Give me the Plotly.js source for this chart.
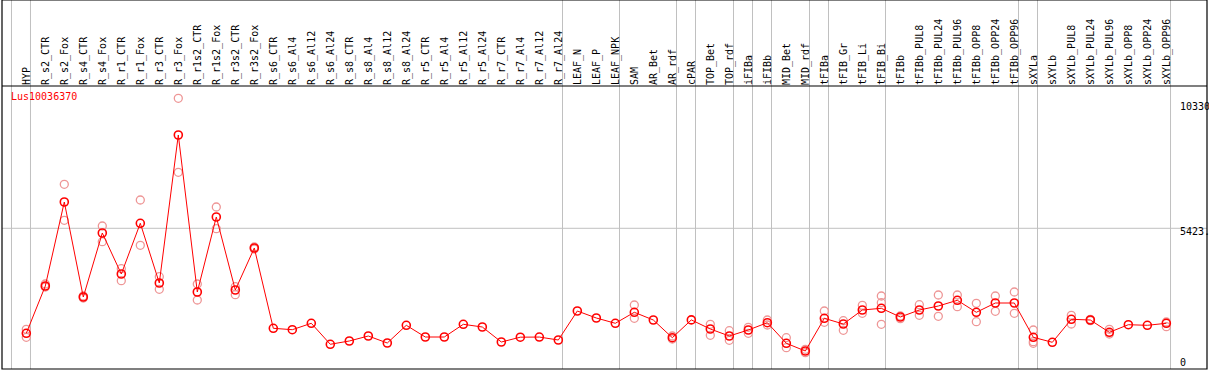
<!DOCTYPE html>
<html>
<head>
<meta charset="utf-8">
<script src="https://cdn.plot.ly/plotly-3.0.1.min.js"></script>
<style>html,body{margin:0;padding:0;background:#fff;}#chart{width:1209px;height:370px;}</style>
</head>
<body>
<div id="chart"></div>
<script>
const categories = ["HYP","R_s2_CTR","R_s2_Fox","R_s4_CTR","R_s4_Fox","R_r1_CTR","R_r1_Fox","R_r3_CTR","R_r3_Fox","R_r1s2_CTR","R_r1s2_Fox","R_r3s2_CTR","R_r3s2_Fox","R_s6_CTR","R_s6_Al4","R_s6_Al12","R_s6_Al24","R_s8_CTR","R_s8_Al4","R_s8_Al12","R_s8_Al24","R_r5_CTR","R_r5_Al4","R_r5_Al12","R_r5_Al24","R_r7_CTR","R_r7_Al4","R_r7_Al12","R_r7_Al24","LEAF_N","LEAF_P","LEAF_NPK","SAM","AR_Bet","AR_rdf","cPAR","TOP_Bet","TOP_rdf","iFIBa","iFIBb","MID_Bet","MID_rdf","tFIBa","tFIB_Gr","tFIB_Li","tFIB_Bi","tFIBb","tFIBb_PUL8","tFIBb_PUL24","tFIBb_PUL96","tFIBb_OPP8","tFIBb_OPP24","tFIBb_OPP96","sXYLa","sXYLb","sXYLb_PUL8","sXYLb_PUL24","sXYLb_PUL96","sXYLb_OPP8","sXYLb_OPP24","sXYLb_OPP96"];

const meanValues = [1288,3150,6458,2717,5238,3623,5620,3269,9097,2914,5868,2993,4647,1485,1429,1682,855,985,1181,906,1603,1142,1142,1642,1536,945,1135,1140,1024,2166,1890,1682,2115,1811,1114,1815,1457,1181,1418,1705,894,591,1878,1654,2205,2272,1930,2205,2363,2587,2115,2481,2481,1130,933,1839,1811,1327,1626,1603,1682];

const rep1 = [1445,3229,7155,2757,5513,3832,6537,3517,10542,3229,6261,3123,4686,null,null,null,null,null,null,null,null,null,null,null,null,null,null,null,null,null,null,null,2402,null,1181,null,1642,1390,1524,1811,1114,658,2166,1784,2390,2757,1969,2414,2796,2796,2469,2757,2914,1418,null,1997,1839,1445,null,null,1733];
const rep2 = [1130,3111,5738,2678,4895,3359,4753,3020,7628,2599,5407,2808,4607,null,null,null,null,null,null,null,null,null,null,null,null,null,null,null,null,null,null,null,1878,null,1063,null,1209,1012,1288,1615,721,524,1721,1406,2075,2493,1863,1997,1957,2335,1745,2154,2075,957,null,1654,1784,1260,null,null,1548];
const rep3 = [null,null,null,null,null,null,null,null,null,null,null,null,null,null,null,null,null,null,null,null,null,null,null,null,null,null,null,null,null,null,null,null,null,null,null,null,null,null,null,null,null,null,null,null,null,1642,null,null,null,null,null,null,null,894,null,null,null,null,null,null,null];

const separatorsAfter = [-1,0,28,31,34,35,37,38,39,41,42,45,52,53,60];
const gridValue = 5423;
const yTickTexts = ["10330", "5423.", "0"];
const geneName = "Lus10036370";

const mono = "DejaVu Sans Mono, monospace";
const repX = [];
const repY = [];
[rep1, rep2, rep3].forEach(arr => arr.forEach((v, i) => { if (v !== null) { repX.push(categories[i]); repY.push(v); } }));

const traces = [
  {
    x: repX, y: repY, type: "scatter", mode: "markers",
    marker: {symbol: "circle-open", size: 8, color: "rgb(238,150,150)", line: {width: 1.3, color: "rgb(238,150,150)"}},
    hoverinfo: "skip", showlegend: false
  },
  {
    x: categories, y: meanValues, type: "scatter", mode: "lines+markers",
    line: {color: "rgb(255,0,0)", width: 1},
    marker: {symbol: "circle-open", size: 8, color: "rgb(255,0,0)", line: {width: 1.6, color: "rgb(255,0,0)"}},
    showlegend: false
  }
];

const headerTop = 1 + 86 / 283;
const shapes = [];
separatorsAfter.forEach(i => {
  shapes.push({type: "line", xref: "x", yref: "paper", x0: i + 0.22, x1: i + 0.22, y0: 0, y1: headerTop,
    line: {color: "rgb(192,192,192)", width: 1}, layer: "below"});
});
shapes.push({type: "line", xref: "paper", yref: "y", x0: 0, x1: 1, y0: gridValue, y1: gridValue, line: {color: "rgb(192,192,192)", width: 1}, layer: "below"});
shapes.push({type: "line", xref: "paper", yref: "paper", x0: 0, x1: 1, y0: 1, y1: 1, line: {color: "black", width: 1.2}});
shapes.push({type: "rect", xref: "paper", yref: "paper", x0: 0, x1: 1, y0: 0, y1: headerTop, line: {color: "black", width: 1.2}});

const annotations = [
  {xref: "paper", yref: "paper", x: 0.006, y: 0.962, xanchor: "left", yanchor: "middle", text: geneName, showarrow: false,
   font: {family: mono, size: 10, color: "rgb(255,0,0)"}}
];
const yLabelPos = [0.9258, 0.4841, 0.0247];
yTickTexts.forEach((t, k) => {
  annotations.push({xref: "paper", yref: "paper", x: 0.976, y: yLabelPos[k], xanchor: "left", yanchor: "middle",
    text: t, showarrow: false, font: {family: mono, size: 10, color: "black"}});
});

const layout = {
  width: 1209, height: 370,
  margin: {l: 2, r: 2, t: 86, b: 1, pad: 0},
  paper_bgcolor: "white", plot_bgcolor: "white",
  xaxis: {type: "category", categoryorder: "array", categoryarray: categories, side: "top", range: [-1.279, 62.14],
    showgrid: false, zeroline: false, showline: false,
    ticks: "", tickangle: -90, tickfont: {family: mono, size: 10, color: "black"}, automargin: false},
  yaxis: {range: [-118, 11026], showgrid: false, zeroline: false, showline: false, showticklabels: false, ticks: ""},
  shapes: shapes, annotations: annotations, showlegend: false
};

Plotly.newPlot("chart", traces, layout, {staticPlot: true, displayModeBar: false});
</script>
</body>
</html>
